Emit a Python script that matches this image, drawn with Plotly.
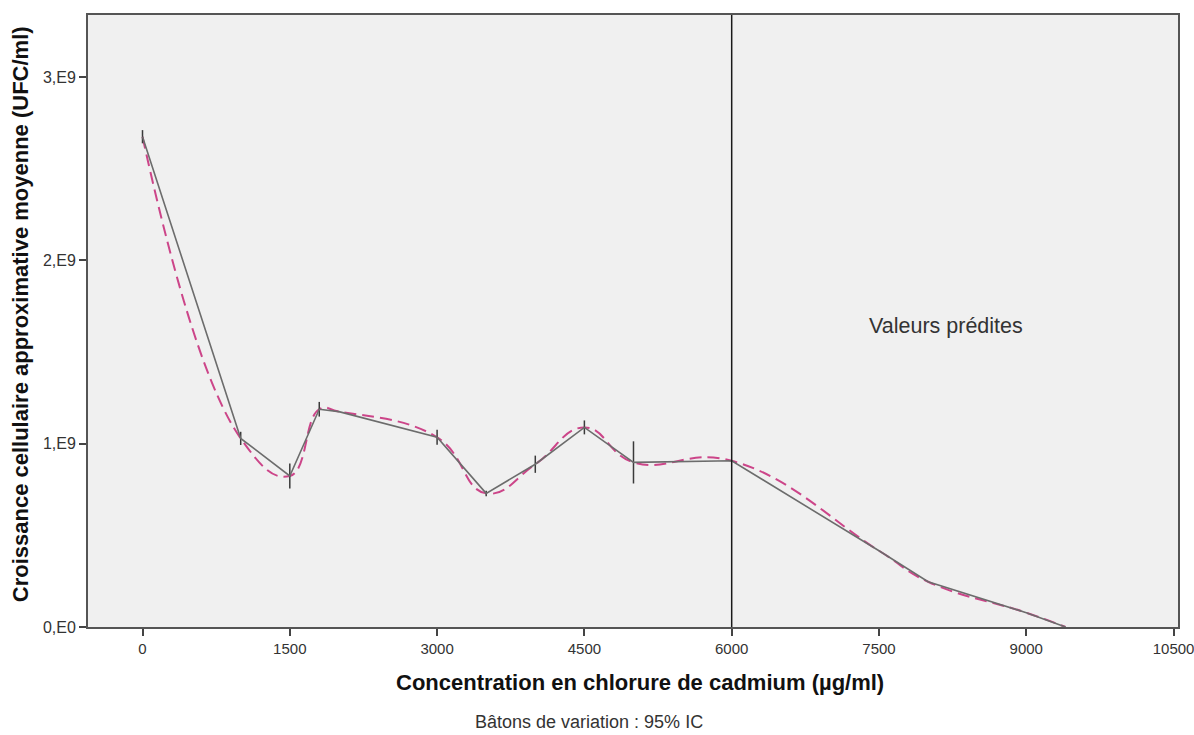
import plotly.graph_objects as go

# Concentration of CdCl2 (µg/ml) and mean approximate cell growth (UFC/ml)
concentration = [0, 1000, 1500, 1800, 2000, 3000, 3500, 4000, 4500, 5000, 6000, 7500, 8000, 9000, 9400]
mean_growth = [2.675e9, 1.029e9, 0.824e9, 1.188e9, 1.175e9, 1.035e9, 0.729e9, 0.888e9,
               1.089e9, 0.898e9, 0.907e9, 0.416e9, 0.247e9, 0.078e9, 0.0]
# Half-width of the 95% confidence interval
ci_half = [0.036e9, 0.036e9, 0.068e9, 0.040e9, 0.003e9, 0.041e9, 0.015e9, 0.047e9,
           0.038e9, 0.115e9, 0.0, 0.0, 0.0, 0.0, 0.0]

x_ticks = [0, 1500, 3000, 4500, 6000, 7500, 9000, 10500]
y_ticks = [0, 1e9, 2e9, 3e9]
y_tick_text = ["0,E0", "1,E9", "2,E9", "3,E9"]

font_family = "Arial, 'Liberation Sans', Helvetica, sans-serif"

fig = go.Figure()

# Smoothed fit (dashed)
fig.add_trace(go.Scatter(
    x=concentration, y=mean_growth, mode="lines",
    line=dict(color="#cc4589", width=2, dash="12px,6px", shape="spline", smoothing=1.3),
    hoverinfo="skip", showlegend=False,
))

# Mean values with 95% CI bars
fig.add_trace(go.Scatter(
    x=concentration, y=mean_growth, mode="lines",
    line=dict(color="#6c6c6c", width=1.6),
    error_y=dict(type="data", array=ci_half, visible=True, color="#3a3a3a", thickness=1.5, width=0),
    showlegend=False,
))

fig.add_shape(type="line", xref="x", yref="paper", x0=6000, x1=6000, y0=0, y1=1,
              line=dict(color="#1a1a1a", width=1.5))

fig.add_annotation(x=8180, y=1.64e9, text="Valeurs prédites", showarrow=False,
                   xanchor="center", yanchor="middle",
                   font=dict(family=font_family, size=21.5, color="#333333"))

# Axis titles and footnote
fig.add_annotation(xref="paper", yref="paper", x=0.506, y=-0.0899,
                   text="<b>Concentration en chlorure de cadmium (µg/ml)</b>", showarrow=False,
                   xanchor="center", yanchor="middle",
                   font=dict(family=font_family, size=22, color="#111111"))
fig.add_annotation(xref="paper", yref="paper", x=-0.0624, y=0.511, textangle=-90,
                   text="<b>Croissance cellulaire approximative moyenne (UFC/ml)</b>", showarrow=False,
                   xanchor="center", yanchor="middle",
                   font=dict(family=font_family, size=22, color="#111111"))
fig.add_annotation(xref="paper", yref="paper", x=0.4596, y=-0.156, text="Bâtons de variation : 95% IC",
                   showarrow=False, xanchor="center", yanchor="middle",
                   font=dict(family=font_family, size=18, color="#333333"))

fig.update_xaxes(
    range=[-555, 10545], tickvals=x_ticks, ticktext=[str(v) for v in x_ticks],
    ticks="outside", ticklen=7, tickwidth=1.5, tickcolor="#444444",
    showline=True, linecolor="#555555", linewidth=2, mirror=True,
    showgrid=False, zeroline=False, automargin=False, ticklabeloverflow="allow",
    tickfont=dict(family=font_family, size=15, color="#333333"),
)
fig.update_yaxes(
    range=[0, 3.339e9], tickvals=y_ticks, ticktext=y_tick_text,
    ticks="outside", ticklen=7, tickwidth=1.5, tickcolor="#444444",
    showline=True, linecolor="#555555", linewidth=2, mirror=True,
    showgrid=False, zeroline=False, automargin=False,
    tickfont=dict(family=font_family, size=16, color="#333333"),
)

fig.update_layout(
    width=1194, height=735,
    margin=dict(l=88, r=16, t=15, b=108),
    plot_bgcolor="#f0f0f0", paper_bgcolor="#ffffff",
    showlegend=False,
)

fig.write_html("out.html")
